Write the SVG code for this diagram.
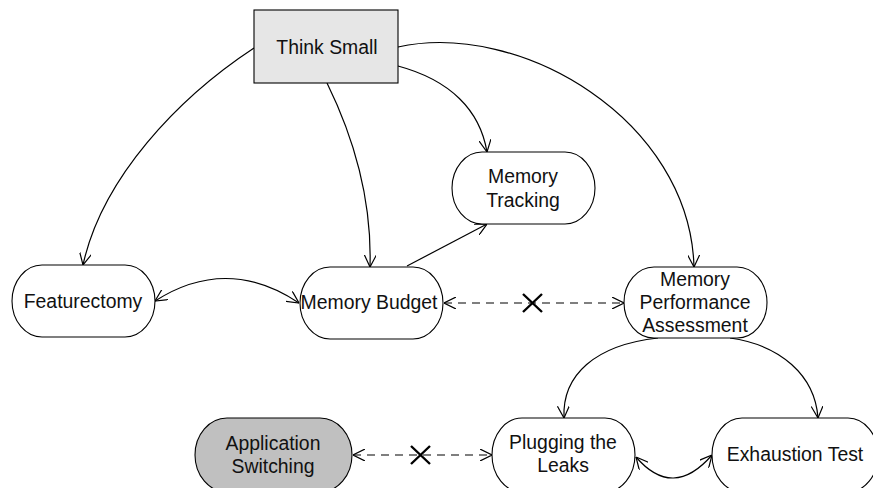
<svg xmlns="http://www.w3.org/2000/svg" width="873" height="488" viewBox="0 0 873 488">
<defs>
<marker id="arr" viewBox="0 0 12 12" refX="12" refY="6" markerWidth="12" markerHeight="12" markerUnits="userSpaceOnUse" orient="auto-start-reverse">
<path d="M0,0 L12,6 L0,12" fill="none" stroke="#000" stroke-width="1.2"/>
</marker>
</defs>
<style>
.n{fill:#fff;stroke:#000;stroke-width:1.1}
.t{font-family:"Liberation Sans",Arial,sans-serif;font-size:19.4px;fill:#111;text-anchor:middle}
.c{fill:none;stroke:#000;stroke-width:1.2}
.d{fill:none;stroke:#000;stroke-width:1.2;stroke-dasharray:8 6}
.x{stroke:#000;stroke-width:2.4}
</style>
<rect width="873" height="488" fill="#fff"/>
<g id="connectors">
<path class="c" d="M254,48 C178,98 102,178 83,265" marker-end="url(#arr)"/>
<path class="c" d="M327,83 C355,140 372,200 370,267" marker-end="url(#arr)"/>
<path class="c" d="M398,66 C450,80 480,110 487,152" marker-end="url(#arr)"/>
<path class="c" d="M398,47 C520,20 690,120 694,267" marker-end="url(#arr)"/>
<path class="c" d="M407,266 L487,224" marker-end="url(#arr)"/>
<path class="c" d="M155,301 Q227,255 299,303" marker-start="url(#arr)" marker-end="url(#arr)"/>
<path class="d" d="M444,303 L624,303" marker-start="url(#arr)" marker-end="url(#arr)"/>
<path class="x" d="M523,294 L542,312 M542,294 L523,312"/>
<path class="c" d="M658,338 C595,345 562,375 564,418" marker-end="url(#arr)"/>
<path class="c" d="M730,338 C780,345 815,375 818,418" marker-end="url(#arr)"/>
<path class="c" d="M636,457 Q673,500 712,455" marker-start="url(#arr)" marker-end="url(#arr)"/>
<path class="d" d="M353,455 L492,455" marker-start="url(#arr)" marker-end="url(#arr)"/>
<path class="x" d="M411,446 L430,464 M430,446 L411,464"/>
</g>
<g id="think-small">
<rect x="254" y="10" width="144" height="73" fill="#e6e6e6" stroke="#000" stroke-width="1.1"/>
<text class="t" x="327" y="54">Think Small</text>
</g>
<g id="memory-tracking">
<rect class="n" x="452" y="152" width="143" height="72" rx="30" ry="36"/>
<text class="t" x="523" y="183">Memory</text>
<text class="t" x="523" y="207">Tracking</text>
</g>
<g id="featurectomy">
<rect class="n" x="12" y="265" width="143" height="72" rx="30" ry="36"/>
<text class="t" x="83" y="308">Featurectomy</text>
</g>
<g id="memory-budget">
<rect class="n" x="300" y="267" width="143" height="72" rx="30" ry="36"/>
<text class="t" x="369" y="309">Memory Budget</text>
</g>
<g id="memory-performance-assessment">
<rect class="n" x="624" y="267" width="143" height="71" rx="30" ry="36"/>
<text class="t" x="695" y="286">Memory</text>
<text class="t" x="695" y="309">Performance</text>
<text class="t" x="695" y="332">Assessment</text>
</g>
<g id="application-switching">
<rect x="195" y="418" width="157" height="74" rx="32" ry="37" fill="#c0c0c0" stroke="#000" stroke-width="1.1"/>
<text class="t" x="273" y="450">Application</text>
<text class="t" x="273" y="473">Switching</text>
</g>
<g id="plugging-the-leaks">
<rect class="n" x="492" y="418" width="143" height="74" rx="30" ry="37"/>
<text class="t" x="563" y="449">Plugging the</text>
<text class="t" x="563" y="472">Leaks</text>
</g>
<g id="exhaustion-test">
<rect class="n" x="712" y="418" width="166" height="74" rx="30" ry="37"/>
<text class="t" x="795" y="461">Exhaustion Test</text>
</g>
</svg>
